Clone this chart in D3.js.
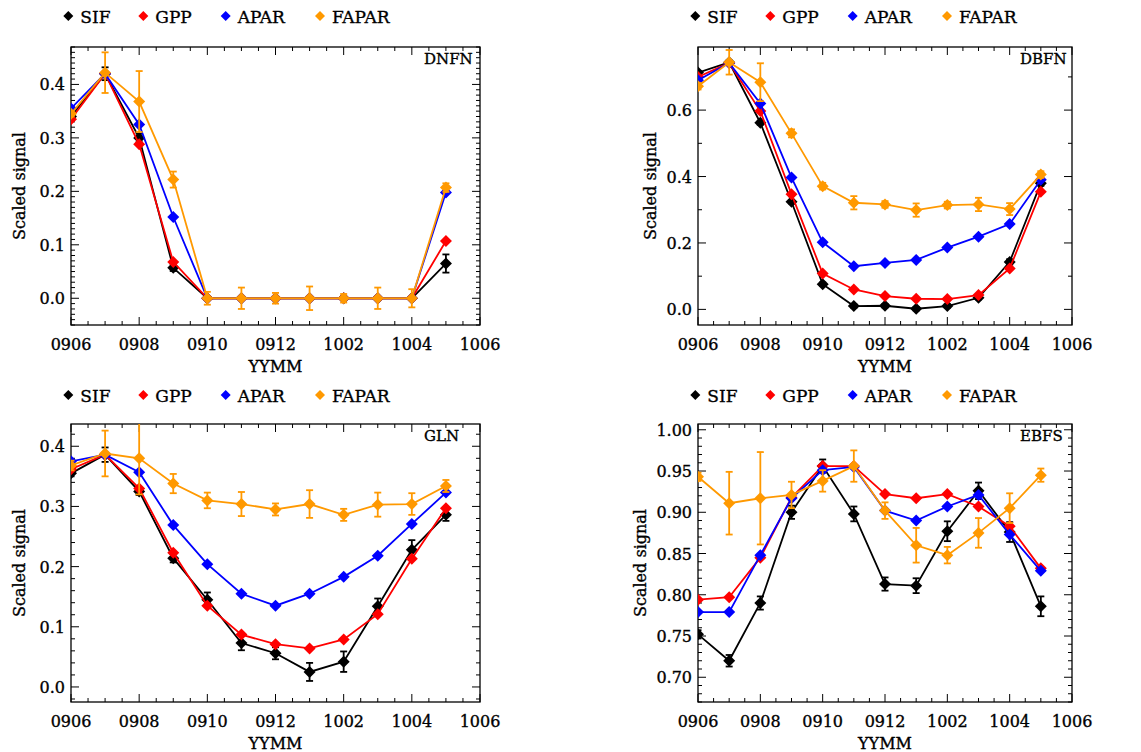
<!DOCTYPE html>
<html>
<head>
<meta charset="utf-8">
<script src="https://cdn.jsdelivr.net/npm/d3@7"></script>
<style>
  body { margin: 0; background: #fff; }
  text { font-family: "DejaVu Serif", serif; fill: #000; stroke: #000; stroke-width: 0.35px; }
</style>
</head>
<body>
<div class="canvas"></div>
<script>
// months on the x axis, 0906 .. 1005
var months = ["0906","0907","0908","0909","0910","0911","0912","1001","1002","1003","1004","1005"];
var tickLabels = ["0906","0908","0910","0912","1002","1004","1006"];
var seriesNames = ["SIF","GPP","APAR","FAPAR"];
var seriesColors = ["#000000","#ff0000","#0000ff","#ff9900"];

// DNFN
var dnfnSif    = [0.340, 0.420, 0.300, 0.057, 0, 0, 0, 0, 0, 0, 0, 0.065];
var dnfnSifErr = [0.004, 0.012, 0.008, 0.006, 0.003, 0, 0, 0, 0, 0, 0, 0.017];
var dnfnGpp    = [0.335, 0.420, 0.288, 0.068, 0, 0, 0, 0, 0, 0, 0, 0.107];
var dnfnApar   = [0.355, 0.420, 0.325, 0.152, 0, 0, 0, 0, 0, 0, 0, 0.198];
var dnfnFapar  = [0.345, 0.422, 0.368, 0.222, 0, 0, 0, 0, 0, 0, 0, 0.207];
var dnfnFaparErr = [0.005, 0.038, 0.057, 0.015, 0.012, 0.020, 0.010, 0.022, 0.008, 0.020, 0.017, 0.008];

// DBFN
var dbfnSif    = [0.713, 0.744, 0.562, 0.324, 0.076, 0.010, 0.011, 0.002, 0.010, 0.035, 0.143, 0.380];
var dbfnSifErr = [0.005, 0.005, 0.006, 0.005, 0.005, 0.005, 0.005, 0.005, 0.005, 0.005, 0.008, 0.008];
var dbfnGpp    = [0.700, 0.742, 0.597, 0.347, 0.108, 0.060, 0.040, 0.032, 0.031, 0.043, 0.123, 0.354];
var dbfnApar   = [0.690, 0.742, 0.620, 0.397, 0.202, 0.130, 0.140, 0.149, 0.186, 0.219, 0.257, 0.390];
var dbfnFapar  = [0.672, 0.744, 0.684, 0.530, 0.371, 0.321, 0.316, 0.299, 0.314, 0.316, 0.302, 0.406];
var dbfnFaparErr = [0.010, 0.037, 0.057, 0.012, 0.010, 0.020, 0.010, 0.020, 0.010, 0.020, 0.018, 0.010];

// GLN
var glnSif    = [0.355, 0.386, 0.325, 0.214, 0.145, 0.073, 0.056, 0.025, 0.042, 0.134, 0.228, 0.286];
var glnSifErr = [0.005, 0.012, 0.006, 0.007, 0.012, 0.012, 0.010, 0.015, 0.017, 0.013, 0.016, 0.010];
var glnGpp    = [0.362, 0.386, 0.330, 0.223, 0.135, 0.087, 0.071, 0.064, 0.079, 0.121, 0.213, 0.297];
var glnApar   = [0.375, 0.386, 0.357, 0.269, 0.204, 0.155, 0.135, 0.155, 0.183, 0.218, 0.271, 0.323];
var glnFapar  = [0.368, 0.388, 0.380, 0.338, 0.310, 0.304, 0.295, 0.304, 0.286, 0.303, 0.304, 0.334];
var glnFaparErr = [0.008, 0.038, 0.060, 0.016, 0.013, 0.020, 0.010, 0.023, 0.010, 0.020, 0.018, 0.010];

// EBFS
var ebfsSif    = [0.752, 0.720, 0.790, 0.900, 0.956, 0.898, 0.813, 0.811, 0.877, 0.926, 0.876, 0.786];
var ebfsSifErr = [0.005, 0.007, 0.008, 0.008, 0.008, 0.009, 0.008, 0.009, 0.012, 0.010, 0.012, 0.012];
var ebfsGpp    = [0.794, 0.797, 0.845, 0.918, 0.956, 0.956, 0.922, 0.917, 0.922, 0.907, 0.883, 0.832];
var ebfsApar   = [0.779, 0.779, 0.848, 0.917, 0.951, 0.955, 0.902, 0.890, 0.907, 0.921, 0.873, 0.829];
var ebfsFapar  = [0.943, 0.911, 0.917, 0.921, 0.938, 0.956, 0.902, 0.860, 0.848, 0.875, 0.905, 0.945];
var ebfsFaparErr = [0.005, 0.038, 0.056, 0.016, 0.013, 0.019, 0.010, 0.021, 0.010, 0.018, 0.018, 0.008];

var svg = d3.select(".canvas").append("svg").attr("width", 1141).attr("height", 752);
svg.append("rect").attr("width", 1141).attr("height", 752).attr("fill", "#fff");

var panels = [
  { name: "DNFN", box: {x: 71, y: 47, w: 409, h: 278}, yDomain: [-0.05, 0.47], yTicks: d3.range(0, 0.45, 0.1), yMinor: 0.01, fmt: ".1f",
    ylab: 19, nameX: 424, legendY: 16,
    vals: [dnfnSif, dnfnGpp, dnfnApar, dnfnFapar], errs: [dnfnSifErr, null, null, dnfnFaparErr] },
  { name: "DBFN", box: {x: 698, y: 47, w: 374, h: 278}, yDomain: [-0.047, 0.79], yTicks: d3.range(0, 0.65, 0.2), yMinor: 0.1, fmt: ".1f",
    ylab: 650, nameX: 1020, legendY: 16,
    vals: [dbfnSif, dbfnGpp, dbfnApar, dbfnFapar], errs: [dbfnSifErr, null, null, dbfnFaparErr] },
  { name: "GLN", box: {x: 71, y: 424, w: 409, h: 278}, yDomain: [-0.025, 0.437], yTicks: d3.range(0, 0.45, 0.1), yMinor: 0.02, fmt: ".1f",
    ylab: 19, nameX: 424, legendY: 395,
    vals: [glnSif, glnGpp, glnApar, glnFapar], errs: [glnSifErr, null, null, glnFaparErr] },
  { name: "EBFS", box: {x: 698, y: 424, w: 374, h: 278}, yDomain: [0.67, 1.007], yTicks: d3.range(0.70, 1.001, 0.05), yMinor: 0.01, fmt: ".2f",
    ylab: 640, nameX: 1020, legendY: 395,
    vals: [ebfsSif, ebfsGpp, ebfsApar, ebfsFapar], errs: [ebfsSifErr, null, null, ebfsFaparErr] }
];

var diamond = function(cx, cy, r) {
  return "M" + cx + "," + (cy - r) + "L" + (cx + r) + "," + cy + "L" + cx + "," + (cy + r) + "L" + (cx - r) + "," + cy + "Z";
};

panels.forEach(function(p, pi) {
  var b = p.box;
  var g = svg.append("g");

  var x = d3.scaleLinear().domain([0, 12]).range([b.x, b.x + b.w]);
  var y = d3.scaleLinear().domain(p.yDomain).range([b.y + b.h, b.y]);

  var clipId = "clip" + pi;
  svg.append("clipPath").attr("id", clipId)
    .append("rect").attr("x", b.x).attr("y", b.y).attr("width", b.w).attr("height", b.h);

  // x ticks: major every 2 months, minor every half month, top and bottom
  var xMinor = d3.range(0, 12.01, 0.5);
  xMinor.forEach(function(m) {
    var len = (m % 2 === 0) ? 8 : 4;
    g.append("line").attr("x1", x(m)).attr("x2", x(m)).attr("y1", b.y + b.h).attr("y2", b.y + b.h - len)
      .attr("stroke", "#000").attr("stroke-width", 1);
    g.append("line").attr("x1", x(m)).attr("x2", x(m)).attr("y1", b.y).attr("y2", b.y + len)
      .attr("stroke", "#000").attr("stroke-width", 1);
  });
  tickLabels.forEach(function(t, i) {
    g.append("text").attr("x", x(i * 2)).attr("y", b.y + b.h + 25)
      .attr("text-anchor", "middle").attr("font-size", "16px").text(t);
  });

  // y ticks left and right
  var yMinorTicks = d3.range(Math.ceil(p.yDomain[0] / p.yMinor - 1e-6) * p.yMinor, p.yDomain[1] + 1e-9, p.yMinor);
  yMinorTicks.forEach(function(v) {
    var isMajor = p.yTicks.some(function(t) { return Math.abs(t - v) < 1e-6; });
    var len = isMajor ? 8 : 4;
    g.append("line").attr("x1", b.x).attr("x2", b.x + len).attr("y1", y(v)).attr("y2", y(v))
      .attr("stroke", "#000").attr("stroke-width", 1);
    g.append("line").attr("x1", b.x + b.w).attr("x2", b.x + b.w - len).attr("y1", y(v)).attr("y2", y(v))
      .attr("stroke", "#000").attr("stroke-width", 1);
  });
  p.yTicks.forEach(function(v) {
    g.append("text").attr("x", b.x - 6).attr("y", y(v) + 6)
      .attr("text-anchor", "end").attr("font-size", "16px").text(d3.format(p.fmt)(v));
  });

  // frame
  g.append("rect").attr("x", b.x).attr("y", b.y).attr("width", b.w).attr("height", b.h)
    .attr("fill", "none").attr("stroke", "#000").attr("stroke-width", 1.3);

  // axis titles
  g.append("text").attr("x", b.x + b.w / 2).attr("y", b.y + b.h + 47)
    .attr("text-anchor", "middle").attr("font-size", "16px").text("YYMM");
  g.append("text")
    .attr("transform", "translate(" + p.ylab + "," + (b.y + b.h / 2) + ") rotate(-90)")
    .attr("text-anchor", "middle").attr("dominant-baseline", "central")
    .attr("font-size", "16px").text("Scaled signal");

  // panel name
  g.append("text").attr("x", p.nameX).attr("y", b.y + 17)
    .attr("font-size", "15px").text(p.name);

  // series
  var plot = g.append("g").attr("clip-path", "url(#" + clipId + ")");
  var line = d3.line().x(function(d, i) { return x(i); }).y(function(d) { return y(d); });

  p.vals.forEach(function(vals, si) {
    var col = seriesColors[si];
    plot.append("path").datum(vals).attr("d", line)
      .attr("fill", "none").attr("stroke", col).attr("stroke-width", 1.8);
    var err = p.errs[si];
    if (err) {
      vals.forEach(function(v, i) {
        if (err[i] <= 0) return;
        var top = y(v + err[i]), bot = y(v - err[i]);
        plot.append("line").attr("x1", x(i)).attr("x2", x(i)).attr("y1", top).attr("y2", bot)
          .attr("stroke", col).attr("stroke-width", 1.8);
        plot.append("line").attr("x1", x(i) - 3.5).attr("x2", x(i) + 3.5).attr("y1", top).attr("y2", top)
          .attr("stroke", col).attr("stroke-width", 1.8);
        plot.append("line").attr("x1", x(i) - 3.5).attr("x2", x(i) + 3.5).attr("y1", bot).attr("y2", bot)
          .attr("stroke", col).attr("stroke-width", 1.8);
      });
    }
    vals.forEach(function(v, i) {
      plot.append("path").attr("d", diamond(x(i), y(v), 6)).attr("fill", col);
    });
  });

  // legend
  var legX = [b.x - 2.7, b.x + 72.3, b.x + 154.7, b.x + 249];
  seriesNames.forEach(function(s, si) {
    g.append("path").attr("d", diamond(legX[si], p.legendY, 5)).attr("fill", seriesColors[si]);
    g.append("text").attr("x", legX[si] + 12).attr("y", p.legendY + 6.5)
      .attr("font-size", "17px").text(s);
  });
});
</script>
</body>
</html>
